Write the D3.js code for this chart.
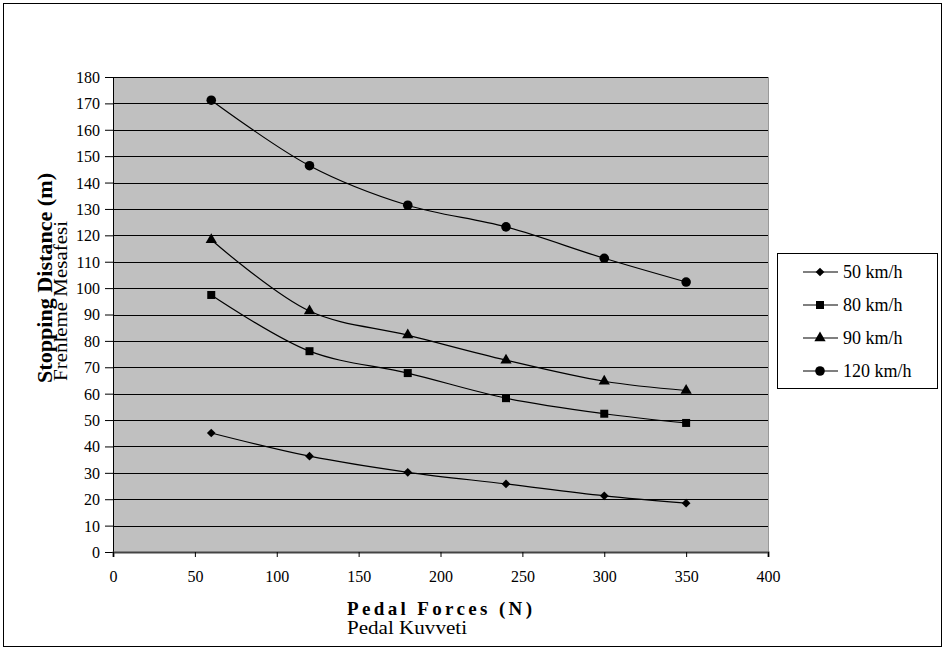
<!DOCTYPE html>
<html>
<head>
<meta charset="utf-8">
<script src="https://cdn.jsdelivr.net/npm/d3@7"></script>
<style>
  body { margin: 0; background: #fff; }
  text { font-family: "Liberation Serif", "Times New Roman", serif; fill: #000; }
</style>
</head>
<body>
<script>
var forces = [60, 120, 180, 240, 300, 350];
var speeds = ["50 km/h", "80 km/h", "90 km/h", "120 km/h"];
var dist50 = [45.1, 36.3, 30.2, 25.8, 21.3, 18.5];
var dist80 = [97.4, 76.1, 67.8, 58.3, 52.4, 48.9];
var dist90 = [118.3, 91.3, 82.2, 72.7, 64.7, 61.2];
var dist120 = [171.2, 146.4, 131.4, 123.2, 111.3, 102.3];
var xTicks = [0, 50, 100, 150, 200, 250, 300, 350, 400];
var yTicks = d3.range(0, 181, 10);

var W = 943, H = 648;
var serif = "'Liberation Serif', 'Times New Roman', serif";
var plot = {left: 113, top: 77, right: 768, bottom: 552};

var svg = d3.select("body").append("svg")
    .attr("width", W)
    .attr("height", H);

// outer frame
svg.append("rect")
    .attr("x", 3.5).attr("y", 3.5)
    .attr("width", W - 5).attr("height", H - 5)
    .attr("fill", "#fff")
    .attr("stroke", "#000");

var x = d3.scaleLinear().domain([0, 400]).range([plot.left, plot.right]);
var y = d3.scaleLinear().domain([0, 180]).range([plot.bottom, plot.top]);

// plot area
svg.append("rect")
    .attr("x", plot.left).attr("y", plot.top)
    .attr("width", plot.right - plot.left)
    .attr("height", plot.bottom - plot.top)
    .attr("fill", "#c0c0c0");

svg.append("line")
    .attr("x1", plot.right + 0.5).attr("x2", plot.right + 0.5)
    .attr("y1", plot.top).attr("y2", plot.bottom)
    .attr("stroke", "#999");

// gridlines
svg.append("g").selectAll("line")
    .data(yTicks.filter(function(d) { return d > 0; }))
    .enter().append("line")
    .attr("x1", plot.left).attr("x2", plot.right)
    .attr("y1", function(d) { return Math.round(y(d)) + 0.5; })
    .attr("y2", function(d) { return Math.round(y(d)) + 0.5; })
    .attr("stroke", "#000")
    .attr("stroke-width", 1);

// axes
var yAxis = svg.append("g")
    .attr("transform", "translate(" + plot.left + ",0)")
    .attr("font-family", serif)
    .attr("font-size", 16)
    .call(d3.axisLeft(y).tickValues(yTicks).tickSize(8).tickPadding(5));
yAxis.select(".domain").attr("stroke", "#000");
yAxis.selectAll("text").attr("font-family", serif).style("font-size", "16px")
    .attr("dy", "0.34em");

var xAxis = svg.append("g")
    .attr("transform", "translate(0," + plot.bottom + ")")
    .attr("font-family", serif)
    .attr("font-size", 16)
    .call(d3.axisBottom(x).tickValues(xTicks).tickSize(5).tickPadding(14));
xAxis.select(".domain").attr("stroke", "#444").attr("stroke-width", 2);
xAxis.selectAll("text").attr("font-family", serif).style("font-size", "16px");

// series
var series = [dist50, dist80, dist90, dist120];
var symbols = [
    d3.symbol().type(d3.symbolSquare).size(38),
    d3.symbol().type(d3.symbolSquare).size(64),
    d3.symbol().type(d3.symbolTriangle).size(55),
    d3.symbol().type(d3.symbolCircle).size(72)
];
var rot = [45, 0, 0, 0];

var line = d3.line()
    .x(function(d, i) { return x(forces[i]); })
    .y(function(d) { return y(d); })
    .curve(d3.curveCatmullRom.alpha(0.5));

series.forEach(function(vals, s) {
    svg.append("path")
        .datum(vals)
        .attr("d", line)
        .attr("fill", "none")
        .attr("stroke", "#000")
        .attr("stroke-width", 1.2);
    svg.append("g").selectAll("path")
        .data(vals)
        .enter().append("path")
        .attr("d", symbols[s])
        .attr("transform", function(d, i) {
            return "translate(" + x(forces[i]) + "," + y(d) + ")rotate(" + rot[s] + ")";
        })
        .attr("fill", "#000");
});

// legend
var legend = svg.append("g");
legend.append("rect")
    .attr("x", 777.5).attr("y", 253.5)
    .attr("width", 160).attr("height", 135)
    .attr("fill", "#fff")
    .attr("stroke", "#000");

var item = legend.selectAll(".item")
    .data(speeds)
    .enter().append("g")
    .attr("class", "item")
    .attr("transform", function(d, i) { return "translate(0," + (272 + i * 33) + ")"; });
item.append("line")
    .attr("x1", 803).attr("x2", 838)
    .attr("stroke", "#000").attr("stroke-width", 1.2);
item.append("path")
    .attr("d", function(d, i) { return symbols[i](); })
    .attr("transform", function(d, i) { return "translate(820,0)rotate(" + rot[i] + ")"; })
    .attr("fill", "#000");
item.append("text")
    .attr("x", 843).attr("y", 6)
    .style("font-size", "18px")
    .text(function(d) { return d; });

// axis titles
svg.append("text")
    .attr("x", 347).attr("y", 615)
    .attr("textLength", 185)
    .attr("lengthAdjust", "spacing")
    .style("font-size", "19px")
    .style("font-weight", "bold")
    .text("Pedal Forces  (N)");
svg.append("text")
    .attr("x", 347).attr("y", 634)
    .attr("textLength", 120)
    .attr("lengthAdjust", "spacingAndGlyphs")
    .style("font-size", "19px")
    .text("Pedal Kuvveti");

svg.append("text")
    .attr("transform", "translate(52,383)rotate(-90)")
    .attr("textLength", 210)
    .attr("lengthAdjust", "spacingAndGlyphs")
    .style("font-size", "20px")
    .style("font-weight", "bold")
    .text("Stopping Distance  (m)");
svg.append("text")
    .attr("transform", "translate(67,381)rotate(-90)")
    .attr("textLength", 160)
    .attr("lengthAdjust", "spacingAndGlyphs")
    .style("font-size", "18px")
    .text("Frenleme Mesafesi");
</script>
</body>
</html>
